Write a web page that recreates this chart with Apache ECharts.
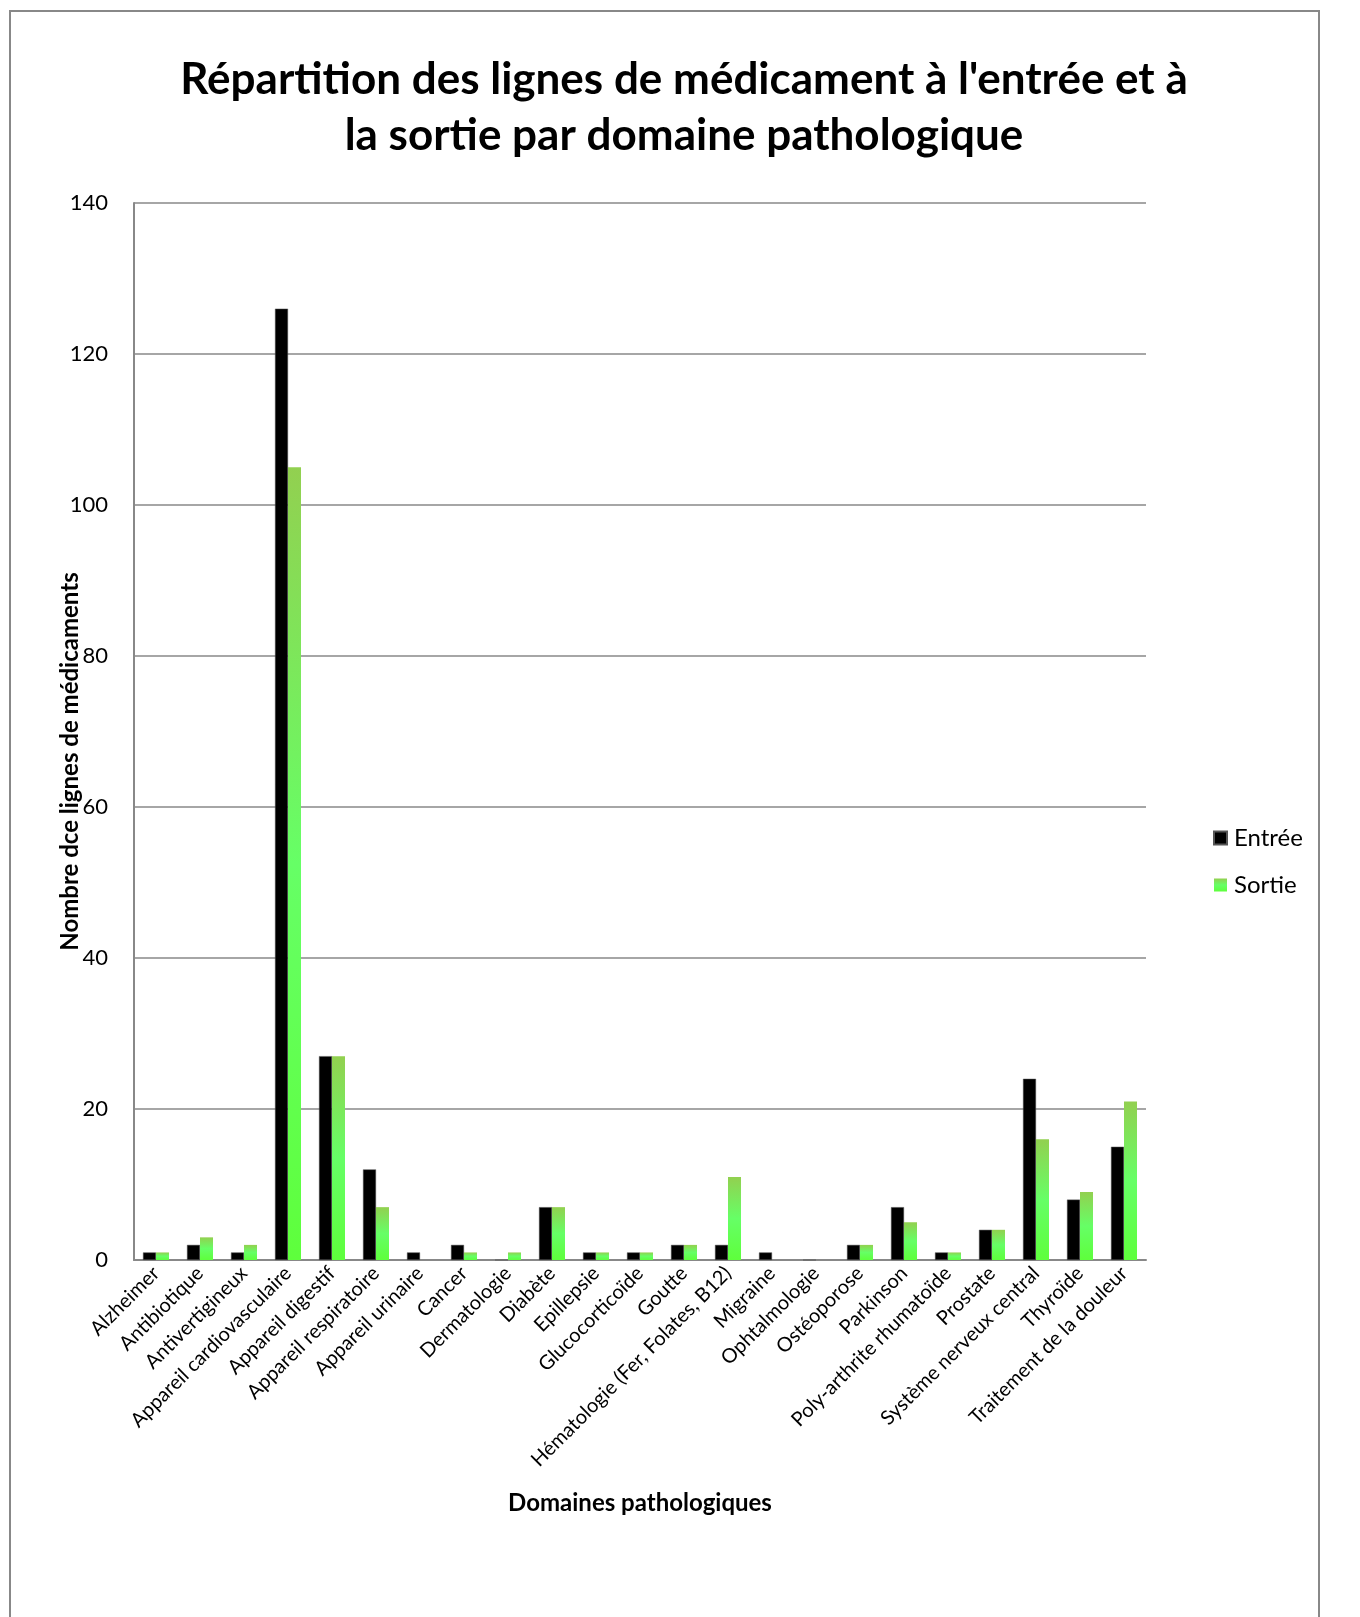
<!DOCTYPE html>
<html><head><meta charset="utf-8">
<script src="https://cdn.jsdelivr.net/npm/echarts@6/dist/echarts.min.js"></script>
<style>html,body{margin:0;padding:0;background:#fff}#c{width:1360px;height:1617px}</style>
</head><body><div id="c"></div>
<script>
const categories = ["Alzheimer","Antibiotique","Antivertigineux","Appareil cardiovasculaire","Appareil digestif","Appareil respiratoire","Appareil urinaire","Cancer","Dermatologie","Diabète","Epillepsie","Glucocorticoïde","Goutte","Hématologie (Fer, Folates, B12)","Migraine","Ophtalmologie","Ostéoporose","Parkinson","Poly-arthrite rhumatoïde","Prostate","Système nerveux central","Thyroïde","Traitement de la douleur"];
const entree = [1,2,1,126,27,12,1,2,0,7,1,1,2,2,1,0,2,7,1,4,24,8,15];
const sortie = [1,3,2,105,27,7,0,1,1,7,1,1,2,11,0,0,2,5,1,4,16,9,21];
const yTicks = [0,20,40,60,80,100,120,140];

const font = 'Lato, "Open Sans", sans-serif';
const chart = echarts.init(document.getElementById('c'), null, {renderer:'canvas'});
const green = new echarts.graphic.LinearGradient(0,0,0,1,[
  {offset:0,color:'#92D050'},{offset:0.5,color:'#66FF66'},{offset:1,color:'#5EFF3C'}]);
chart.setOption({
  animation:false,
  textStyle:{fontFamily:font},
  graphic:[{type:'rect',shape:{x:10,y:11,width:1309,height:1650},style:{fill:'none',stroke:'#888',lineWidth:2},silent:true}],
  title:{text:"Répartition des lignes de médicament à l'entrée et à\nla sortie par domaine pathologique",left:684,textAlign:'center',top:52,padding:0,
    textStyle:{fontFamily:font,fontSize:44,fontWeight:'bold',color:'#000',lineHeight:56}},
  legend:{orient:'vertical',left:1213,top:826,itemWidth:13,itemHeight:13,itemGap:23,icon:'rect',padding:0,
    textStyle:{fontFamily:font,fontSize:24,color:'#000',padding:[0,0,0,2]},data:['Entrée','Sortie']},
  grid:{left:134,right:214,top:203,bottom:357,containLabel:false},
  xAxis:{type:'category',data:categories,
    name:'Domaines pathologiques',nameLocation:'middle',nameGap:231,nameMoveOverlap:false,
    nameTextStyle:{fontFamily:font,fontSize:24,fontWeight:'bold',color:'#000'},
    axisLine:{lineStyle:{color:'#888',width:2}},axisTick:{show:false},
    axisLabel:{rotate:45,fontFamily:font,fontSize:20,color:'#000',interval:0,margin:10}},
  yAxis:{type:'value',min:0,max:140,interval:20,
    name:'Nombre dce lignes de médicaments',nameLocation:'middle',nameGap:52,nameMoveOverlap:false,
    nameTextStyle:{fontFamily:font,fontSize:24,fontWeight:'bold',color:'#000',padding:[0,60,0,0]},
    axisLine:{show:true,lineStyle:{color:'#888',width:2}},axisTick:{show:false},
    axisLabel:{fontFamily:font,fontSize:22,color:'#000',margin:26,
      formatter:v=>yTicks.includes(v)?String(v):''},
    splitLine:{lineStyle:{color:'#888',width:1.5}}},
  series:[
    {name:'Entrée',type:'bar',data:entree,barWidth:13,barGap:'0%',itemStyle:{color:'#000',borderColor:'#555',borderWidth:0.5}},
    {name:'Sortie',type:'bar',data:sortie,barWidth:13,itemStyle:{color:green}}
  ]
});
</script></body></html>
